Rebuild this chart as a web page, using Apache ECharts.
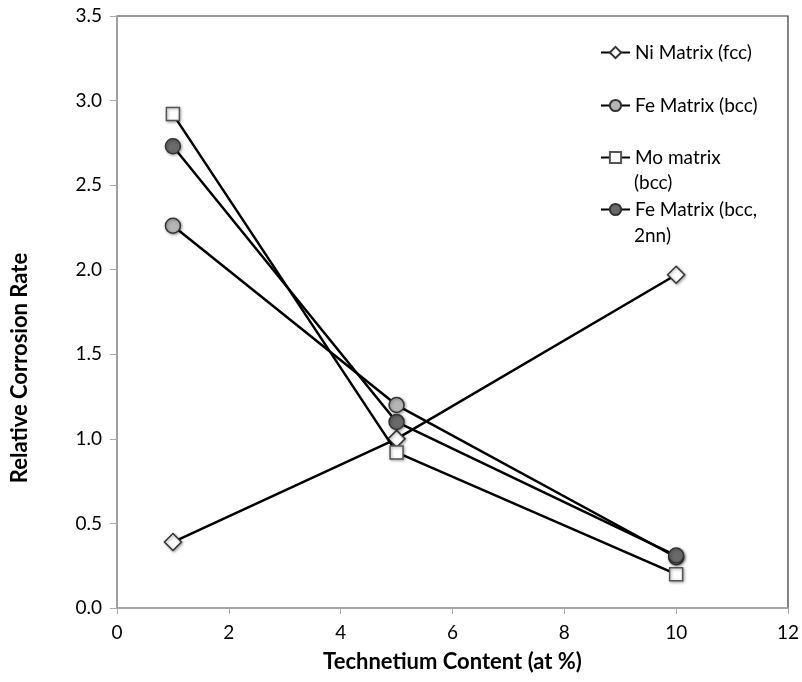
<!DOCTYPE html>
<html><head><meta charset="utf-8">
<script src="https://cdn.jsdelivr.net/npm/echarts@6/dist/echarts.min.js"></script>
<style>html,body{margin:0;padding:0;background:#fff}#c{width:802px;height:682px}</style>
</head><body><div id="c"></div>
<script>
const xValues = [1, 5, 10];
const niMatrix = [0.39, 1.0, 1.97];
const feMatrix = [2.26, 1.2, 0.3];
const moMatrix = [2.92, 0.92, 0.2];
const fe2nnMatrix = [2.73, 1.1, 0.31];
const seriesNames = ['Ni Matrix (fcc)', 'Fe Matrix (bcc)', 'Mo matrix', 'Fe Matrix (bcc,'];
const xTicks = [0, 2, 4, 6, 8, 10, 12];
const yTicks = [0, 0.5, 1, 1.5, 2, 2.5, 3, 3.5];

const FONT = 'Lato';
const pair = (ys) => xValues.map((x, i) => [x, ys[i]]);
const shadow = {shadowBlur: 3, shadowColor: 'rgba(0,0,0,0.35)', shadowOffsetX: 1, shadowOffsetY: 1};

function mk(name, ys, symbol, size, fill, border, z) {
  return {
    name, type: 'line', data: pair(ys), symbol, symbolSize: size, z,
    lineStyle: {color: '#000', width: 2.5},
    itemStyle: Object.assign({color: fill, borderColor: border, borderWidth: 1.5}, shadow),
    emphasis: {disabled: true}
  };
}

const chart = echarts.init(document.getElementById('c'));
const legendTops = [43, 96, 148, 200];
chart.setOption({
  animation: false,
  grid: {left: 117, right: 13, top: 16, bottom: 74, show: true, borderColor: '#333', borderWidth: 1.2, backgroundColor: '#fff'},
  xAxis: {
    type: 'value', min: xTicks[0], max: xTicks[xTicks.length - 1], interval: 2,
    axisLine: {show: true, lineStyle: {color: '#aaa', width: 1.5}},
    axisTick: {show: true, length: 6, lineStyle: {color: '#aaa'}},
    splitLine: {show: false},
    axisLabel: {color: '#000', fontFamily: FONT, fontSize: 19, margin: 15},
    name: 'Technetium Content (at %)', nameLocation: 'middle', nameGap: 43,
    nameTextStyle: {color: '#000', fontFamily: FONT, fontWeight: 'bold', fontSize: 22}
  },
  yAxis: {
    type: 'value', min: yTicks[0], max: yTicks[yTicks.length - 1], interval: 0.5,
    axisLine: {show: true, lineStyle: {color: '#aaa', width: 1.5}},
    axisTick: {show: true, length: 7, lineStyle: {color: '#aaa'}},
    splitLine: {show: false},
    axisLabel: {color: '#000', fontFamily: FONT, fontSize: 19, margin: 15, formatter: v => v.toFixed(1)}
  },
  legend: seriesNames.map((n, i) => ({
    data: [n], left: 600, top: legendTops[i], orient: 'vertical', padding: 0,
    itemWidth: 29, itemHeight: 14, selectedMode: false,
    textStyle: {color: '#000', fontFamily: FONT, fontSize: 19}
  })),
  graphic: [
    {type: 'text', left: 634, top: 173, style: {text: '(bcc)', fill: '#000', font: '19px ' + FONT}},
    {type: 'text', left: 634, top: 226, style: {text: '2nn)', fill: '#000', font: '19px ' + FONT}},
    {type: 'text', x: 20, y: 368, rotation: Math.PI / 2,
      style: {text: 'Relative Corrosion Rate', fill: '#000', font: 'bold 22px ' + FONT, align: 'center', verticalAlign: 'middle'}}
  ],
  series: [
    mk(seriesNames[0], niMatrix, 'diamond', 17, '#fff', '#333', 2),
    mk(seriesNames[1], feMatrix, 'circle', 15, '#b5b5b5', '#333', 3),
    mk(seriesNames[2], moMatrix, 'rect', 13, '#fff', '#555', 4),
    mk(seriesNames[3], fe2nnMatrix, 'circle', 15, '#6a6a6a', '#333', 5)
  ]
});
</script></body></html>
